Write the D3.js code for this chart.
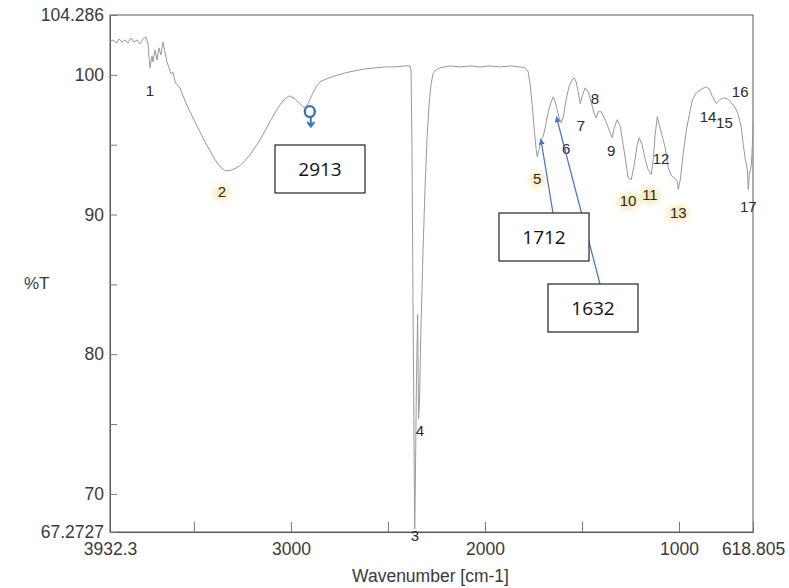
<!DOCTYPE html>
<html>
<head>
<meta charset="utf-8">
<script src="https://cdn.jsdelivr.net/npm/d3@7"></script>
<style>
  html, body { margin: 0; padding: 0; background: #fff; }
  svg { display: block; }
  .tick text, .axis-title { font-family: "Liberation Sans", Arial, sans-serif; fill: #3a3a3a; }
</style>
</head>
<body>
<svg id="chart" width="789" height="588"></svg>
<script>
// FT-IR spectrum: wavenumber (cm-1) vs transmittance (%T)
const wavenumber = [
  3932, 3917, 3901, 3886, 3870, 3855, 3840, 3824, 3809, 3793, 3778, 3762, 3747, 3736,
  3731, 3726, 3716, 3711, 3700, 3690, 3680, 3670, 3659, 3649, 3639, 3628, 3618, 3608,
  3597, 3582, 3572, 3556, 3541, 3520, 3494, 3469, 3443, 3417, 3391, 3365, 3340, 3314,
  3288, 3262, 3237, 3211, 3185, 3159, 3133, 3108, 3082, 3056, 3030, 3005, 2979, 2953,
  2932, 2912, 2891, 2871, 2850, 2819, 2773, 2721, 2670, 2618, 2567, 2515, 2464, 2412,
  2386, 2381, 2376, 2371, 2365, 2362, 2358, 2353, 2347, 2342, 2337, 2330, 2319, 2309,
  2299, 2288, 2278, 2268, 2252, 2232, 2206, 2180, 2129, 2077, 2026, 1974, 1922, 1871,
  1819, 1793, 1777, 1767, 1757, 1746, 1736, 1731, 1721, 1711, 1700, 1690, 1674, 1659,
  1648, 1638, 1628, 1618, 1607, 1597, 1582, 1566, 1551, 1540, 1530, 1520, 1509, 1499,
  1484, 1468, 1453, 1437, 1427, 1417, 1401, 1386, 1370, 1355, 1344, 1334, 1319, 1303,
  1288, 1272, 1262, 1246, 1231, 1215, 1205, 1190, 1174, 1159, 1143, 1133, 1123, 1112,
  1102, 1087, 1071, 1056, 1040, 1025, 1009, 1004, 993, 978, 962, 947, 931, 911,
  890, 864, 844, 828, 818, 808, 792, 771, 751, 730, 710, 694, 679, 669,
  658, 648, 643, 638, 632, 627, 622, 619
];
const transmittance = [
  102.36, 102.50, 102.29, 102.57, 102.36, 102.50, 102.29, 102.64, 102.36, 102.50, 102.21, 102.57, 102.71, 102.21,
  101.21, 100.50, 101.36, 100.93, 101.79, 101.07, 101.93, 101.43, 102.36, 101.64, 100.93, 100.50, 100.07, 100.21,
  99.50, 99.21, 99.07, 98.50, 98.00, 97.36, 96.64, 95.93, 95.21, 94.57, 93.93, 93.43, 93.14, 93.14,
  93.29, 93.50, 93.86, 94.29, 94.79, 95.36, 96.00, 96.64, 97.29, 97.86, 98.29, 98.50, 98.29, 97.93,
  97.64, 97.93, 98.57, 99.14, 99.50, 99.71, 99.93, 100.14, 100.29, 100.43, 100.50, 100.57, 100.57, 100.64,
  100.64, 100.36, 94.64, 83.93, 72.50, 67.50, 71.79, 78.21, 82.86, 75.36, 76.79, 81.79, 87.50, 91.79,
  95.36, 97.86, 99.29, 100.07, 100.36, 100.50, 100.57, 100.64, 100.57, 100.64, 100.57, 100.64, 100.57, 100.64,
  100.57, 100.50, 100.21, 99.29, 97.86, 96.07, 94.64, 94.14, 94.64, 95.36, 95.57, 96.21, 97.36, 98.07,
  98.43, 98.07, 97.50, 96.93, 96.57, 96.93, 98.21, 99.21, 99.64, 99.79, 99.50, 98.79, 97.93, 98.50,
  99.07, 98.79, 98.07, 97.21, 96.93, 97.36, 97.36, 96.93, 96.43, 95.86, 95.50, 96.21, 96.79, 96.36,
  95.00, 93.57, 92.64, 92.50, 93.57, 95.00, 95.50, 95.00, 93.93, 93.21, 92.86, 93.93, 95.71, 97.00,
  96.43, 95.64, 94.79, 93.36, 92.79, 92.64, 92.36, 91.79, 92.50, 94.43, 96.07, 97.14, 98.21, 98.71,
  98.93, 99.14, 99.00, 98.43, 98.21, 97.93, 98.21, 98.36, 98.29, 98.00, 97.64, 97.14, 96.21, 95.00,
  93.93, 93.21, 91.79, 92.86, 93.21, 93.57, 95.00, 96.64
];

// numbered peak labels (label anchor in wavenumber / %T)
const peakNumbers = ["1","2","3","4","5","6","7","8","9","10","11","12","13","14","15","16","17"];
const peakLabelWn = [3726, 3355, 2361, 2335, 1731, 1582, 1505, 1433, 1350, 1263, 1150, 1093, 1004, 850, 766, 685, 643];
const peakLabelT  = [98.79, 91.57, 66.93, 74.43, 92.50, 94.64, 96.29, 98.21, 94.50, 90.93, 91.36, 93.93, 90.07, 96.93, 96.50, 98.71, 90.50];
const highlightedPeaks = ["2", "5", "10", "11", "13"];

// hand-written callouts (band position, %T at that point)
const calloutWn = [2913, 1712, 1632];
const calloutT  = [97.3, 95.4, 97.0];
const calloutText = ["2913", "1712", "1632"];

// axis ticks
const xTickValues = [3932.3, 3500, 3000, 2500, 2000, 1500, 1000, 618.805];
const xTickLabels = ["3932.3", "", "3000", "", "2000", "", "1000", "618.805"];
const yTickValues = [104.286, 100, 95, 90, 85, 80, 75, 70, 67.2727];
const yTickLabels = ["104.286", "100", "", "90", "", "80", "", "70", "67.2727"];

const svg = d3.select("#chart");
const margin = { left: 110, right: 36, top: 15, bottom: 56 };
const W = 789, H = 588;
const innerW = W - margin.left - margin.right;
const innerH = H - margin.top - margin.bottom;

const x = d3.scaleLinear().domain([3932.3, 618.805]).range([0, innerW]);
const y = d3.scaleLinear().domain([67.2727, 104.286]).range([innerH, 0]);

const defs = svg.append("defs");
defs.append("filter").attr("id", "soft").attr("x", "-50%").attr("y", "-50%").attr("width", "200%").attr("height", "200%")
  .append("feGaussianBlur").attr("stdDeviation", 3);
defs.append("marker").attr("id", "arrowBlue")
  .attr("viewBox", "0 0 10 10").attr("refX", 9).attr("refY", 5)
  .attr("markerWidth", 5).attr("markerHeight", 5).attr("orient", "auto")
  .append("path").attr("d", "M0,0 L10,5 L0,10 Z").attr("fill", "#4472c4");

const g = svg.append("g").attr("transform", `translate(${margin.left},${margin.top})`);

// frame
g.append("rect").attr("width", innerW).attr("height", innerH)
  .attr("fill", "none").attr("stroke", "#5a5a5a").attr("stroke-width", 1);

// axes
const xAxis = d3.axisBottom(x).tickValues(xTickValues)
  .tickFormat((d, i) => xTickLabels[i]).tickSizeInner(-10).tickSizeOuter(0).tickPadding(11);
const gx = g.append("g").attr("transform", `translate(0,${innerH})`).call(xAxis);
gx.select(".domain").attr("stroke", "#5a5a5a");
gx.selectAll(".tick line").attr("stroke", "#777");
gx.selectAll(".tick text").attr("font-size", 17.5);

const yAxis = d3.axisLeft(y).tickValues(yTickValues)
  .tickFormat((d, i) => yTickLabels[i]).tickSizeInner(-7).tickSizeOuter(0).tickPadding(6);
const gy = g.append("g").call(yAxis);
gy.select(".domain").attr("stroke", "#5a5a5a");
gy.selectAll(".tick line").attr("stroke", "#777");
gy.selectAll(".tick text").attr("font-size", 17.5);

// axis titles
svg.append("text").attr("class", "axis-title")
  .attr("x", margin.left + innerW / 2 - 1).attr("y", 582)
  .attr("text-anchor", "middle").attr("font-size", 17.5).text("Wavenumber [cm-1]");
svg.append("text").attr("class", "axis-title")
  .attr("x", 24).attr("y", 289).attr("font-size", 17).text("%T");

// highlighter marks under some peak numbers
const peaks = peakNumbers.map((n, i) => ({ n, wn: peakLabelWn[i], t: peakLabelT[i] }));
g.append("g").selectAll("ellipse")
  .data(peaks.filter(p => highlightedPeaks.includes(p.n)))
  .join("ellipse")
  .attr("cx", d => x(d.wn)).attr("cy", d => y(d.t))
  .attr("rx", d => d.n.length > 1 ? 11 : 8).attr("ry", 8)
  .attr("fill", "#f6e2a0").attr("opacity", 0.75).attr("filter", "url(#soft)");

// spectrum trace
const line = d3.line().x(d => x(d[0])).y(d => y(d[1]));
g.append("path")
  .datum(wavenumber.map((w, i) => [w, transmittance[i]]))
  .attr("d", line)
  .attr("fill", "none").attr("stroke", "#999").attr("stroke-width", 1)
  .attr("stroke-linejoin", "round");

// peak numbers
g.append("g").selectAll("text").data(peaks).join("text")
  .attr("x", d => x(d.wn)).attr("y", d => y(d.t))
  .attr("text-anchor", "middle").attr("dominant-baseline", "middle")
  .attr("font-family", "Liberation Sans, Arial, sans-serif").attr("font-size", 15)
  .attr("fill", "#2a2a2a").text(d => d.n);

// callouts
const callouts = calloutText.map((t, i) => ({ t, wn: calloutWn[i], tr: calloutT[i] }));
const boxW = 90, boxH = 48;
// box centres, placed clear of the trace
const boxCentre = [[320 - margin.left, 169 - margin.top], [544 - margin.left, 237 - margin.top], [593 - margin.left, 308 - margin.top]];

// handwritten circle + arrow marking the 2913 band
const c0 = callouts[0];
const cx0 = x(c0.wn) + 2, cy0 = y(c0.tr) - 1;
g.append("ellipse").attr("cx", cx0).attr("cy", cy0).attr("rx", 5).attr("ry", 5.5)
  .attr("fill", "none").attr("stroke", "#3b73b9").attr("stroke-width", 2.4);
g.append("path")
  .attr("d", `M${cx0 + 1},${cy0 + 7} L${cx0 + 1},${cy0 + 15} M${cx0 - 2},${cy0 + 11} L${cx0 + 1},${cy0 + 15} L${cx0 + 4},${cy0 + 11}`)
  .attr("fill", "none").attr("stroke", "#3b73b9").attr("stroke-width", 2).attr("stroke-linecap", "round");

// blue arrows for 1712 and 1632
const arrowStart = [null, [boxCentre[1][0] + 9, boxCentre[1][1] - boxH / 2], [boxCentre[2][0] + 7, boxCentre[2][1] - boxH / 2]];
[1, 2].forEach(i => {
  g.append("line")
    .attr("x1", arrowStart[i][0]).attr("y1", arrowStart[i][1])
    .attr("x2", x(callouts[i].wn)).attr("y2", y(callouts[i].tr))
    .attr("stroke", "#4472c4").attr("stroke-width", 1.2)
    .attr("marker-end", "url(#arrowBlue)");
});

const boxes = g.append("g").selectAll("g").data(callouts).join("g")
  .attr("transform", (d, i) => `translate(${boxCentre[i][0]},${boxCentre[i][1]})`);
boxes.append("rect").attr("x", -boxW / 2).attr("y", -boxH / 2)
  .attr("width", boxW).attr("height", boxH)
  .attr("fill", "#fff").attr("stroke", "#222").attr("stroke-width", 1.2);
boxes.append("text").attr("text-anchor", "middle").attr("dominant-baseline", "central")
  .attr("font-family", "Open Sans, Liberation Sans, sans-serif").attr("font-size", 19)
  .attr("fill", "#111").text(d => d.t);
</script>
</body>
</html>
